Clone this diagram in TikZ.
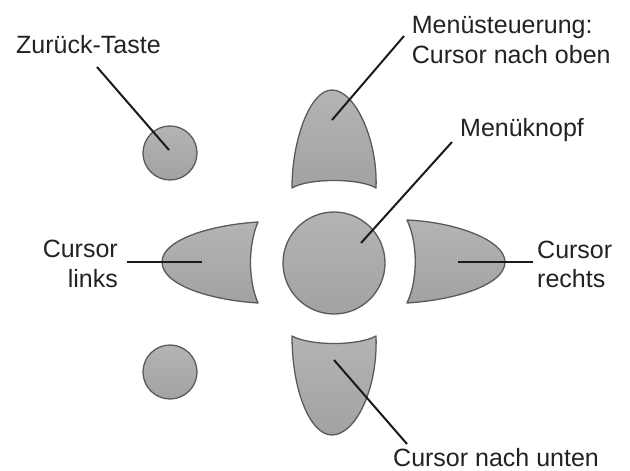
\documentclass[tikz,border=0pt]{standalone}
\usepackage{fontspec}
\setmainfont{Liberation Sans}
\definecolor{btnfill}{HTML}{ABABAB}
\definecolor{btntop}{HTML}{B4B4B4}
\definecolor{btnbot}{HTML}{A2A2A2}
\definecolor{btnline}{HTML}{5A5A5A}
\definecolor{txt}{HTML}{222222}
\definecolor{lead}{HTML}{1A1A1A}
\tikzset{
  btn/.style={draw=btnline, line width=1.3pt, top color=btntop, bottom color=btnbot, line join=round},
  lbl/.style={font=\fontsize{25}{30}\selectfont, text=txt, inner sep=0pt},
  leader/.style={draw=lead, line width=2pt}
}
\begin{document}
\begin{tikzpicture}[x=1pt,y=-1pt]
\useasboundingbox (0,0) rectangle (630,471);
% buttons
\path[btn] (170,153) circle (27);
\path[btn] (170,372) circle (27);
\path[btn] (334,263) circle (51);
% up
\path[btn] (292,188) .. controls (292,140) and (310,90) .. (332,90)
  .. controls (355,90) and (378,140) .. (376,188)
  .. controls (360,178) and (308,178) .. cycle;
% down
\path[btn] (292,336) .. controls (292,390) and (310,435) .. (332,435)
  .. controls (355,435) and (378,390) .. (376,336)
  .. controls (358,346) and (310,346) .. cycle;
% left
\path[btn] (258,222) .. controls (210,225) and (162,240) .. (162,262)
  .. controls (162,285) and (210,300) .. (258,303)
  .. controls (248,280) and (248,245) .. cycle;
% right
\path[btn] (407,220) .. controls (455,222) and (505,240) .. (505,262)
  .. controls (505,285) and (455,300) .. (407,303)
  .. controls (418,280) and (418,243) .. cycle;
% labels
\node[lbl, anchor=base west] (zt) at (16,53) {Zurück-Taste};
\node[lbl, anchor=base west] (ms1) at (411.7,33) {Menüsteuerung:};
\node[lbl, anchor=base west] (ms2) at (411.7,63) {Cursor nach oben};
\node[lbl, anchor=base west] (mk) at (460,136.7) {Menüknopf};
\node[lbl, anchor=base east] (cl1) at (118,257) {Cursor};
\node[lbl, anchor=base east] (cl2) at (118,287) {links};
\node[lbl, anchor=base west] (cr1) at (537,258) {Cursor};
\node[lbl, anchor=base west] (cr2) at (537,287) {rechts};
\node[lbl, anchor=base west] (cu) at (393,466.5) {Cursor nach unten};
% leader end points
\coordinate (zt-a) at (97,67);   \coordinate (zt-b) at (169,150);
\coordinate (ms-a) at (404,36);  \coordinate (ms-b) at (332,120);
\coordinate (mk-a) at (452,142); \coordinate (mk-b) at (361,243);
\coordinate (cl-a) at (127,262); \coordinate (cl-b) at (202,262);
\coordinate (cr-a) at (533,262); \coordinate (cr-b) at (458,262);
\coordinate (cu-a) at (407,444); \coordinate (cu-b) at (334,360);
\draw[leader] (zt-a) -- (zt-b);
\draw[leader] (ms-a) -- (ms-b);
\draw[leader] (mk-a) -- (mk-b);
\draw[leader] (cl-a) -- (cl-b);
\draw[leader] (cr-a) -- (cr-b);
\draw[leader] (cu-a) -- (cu-b);
\end{tikzpicture}
\end{document}
